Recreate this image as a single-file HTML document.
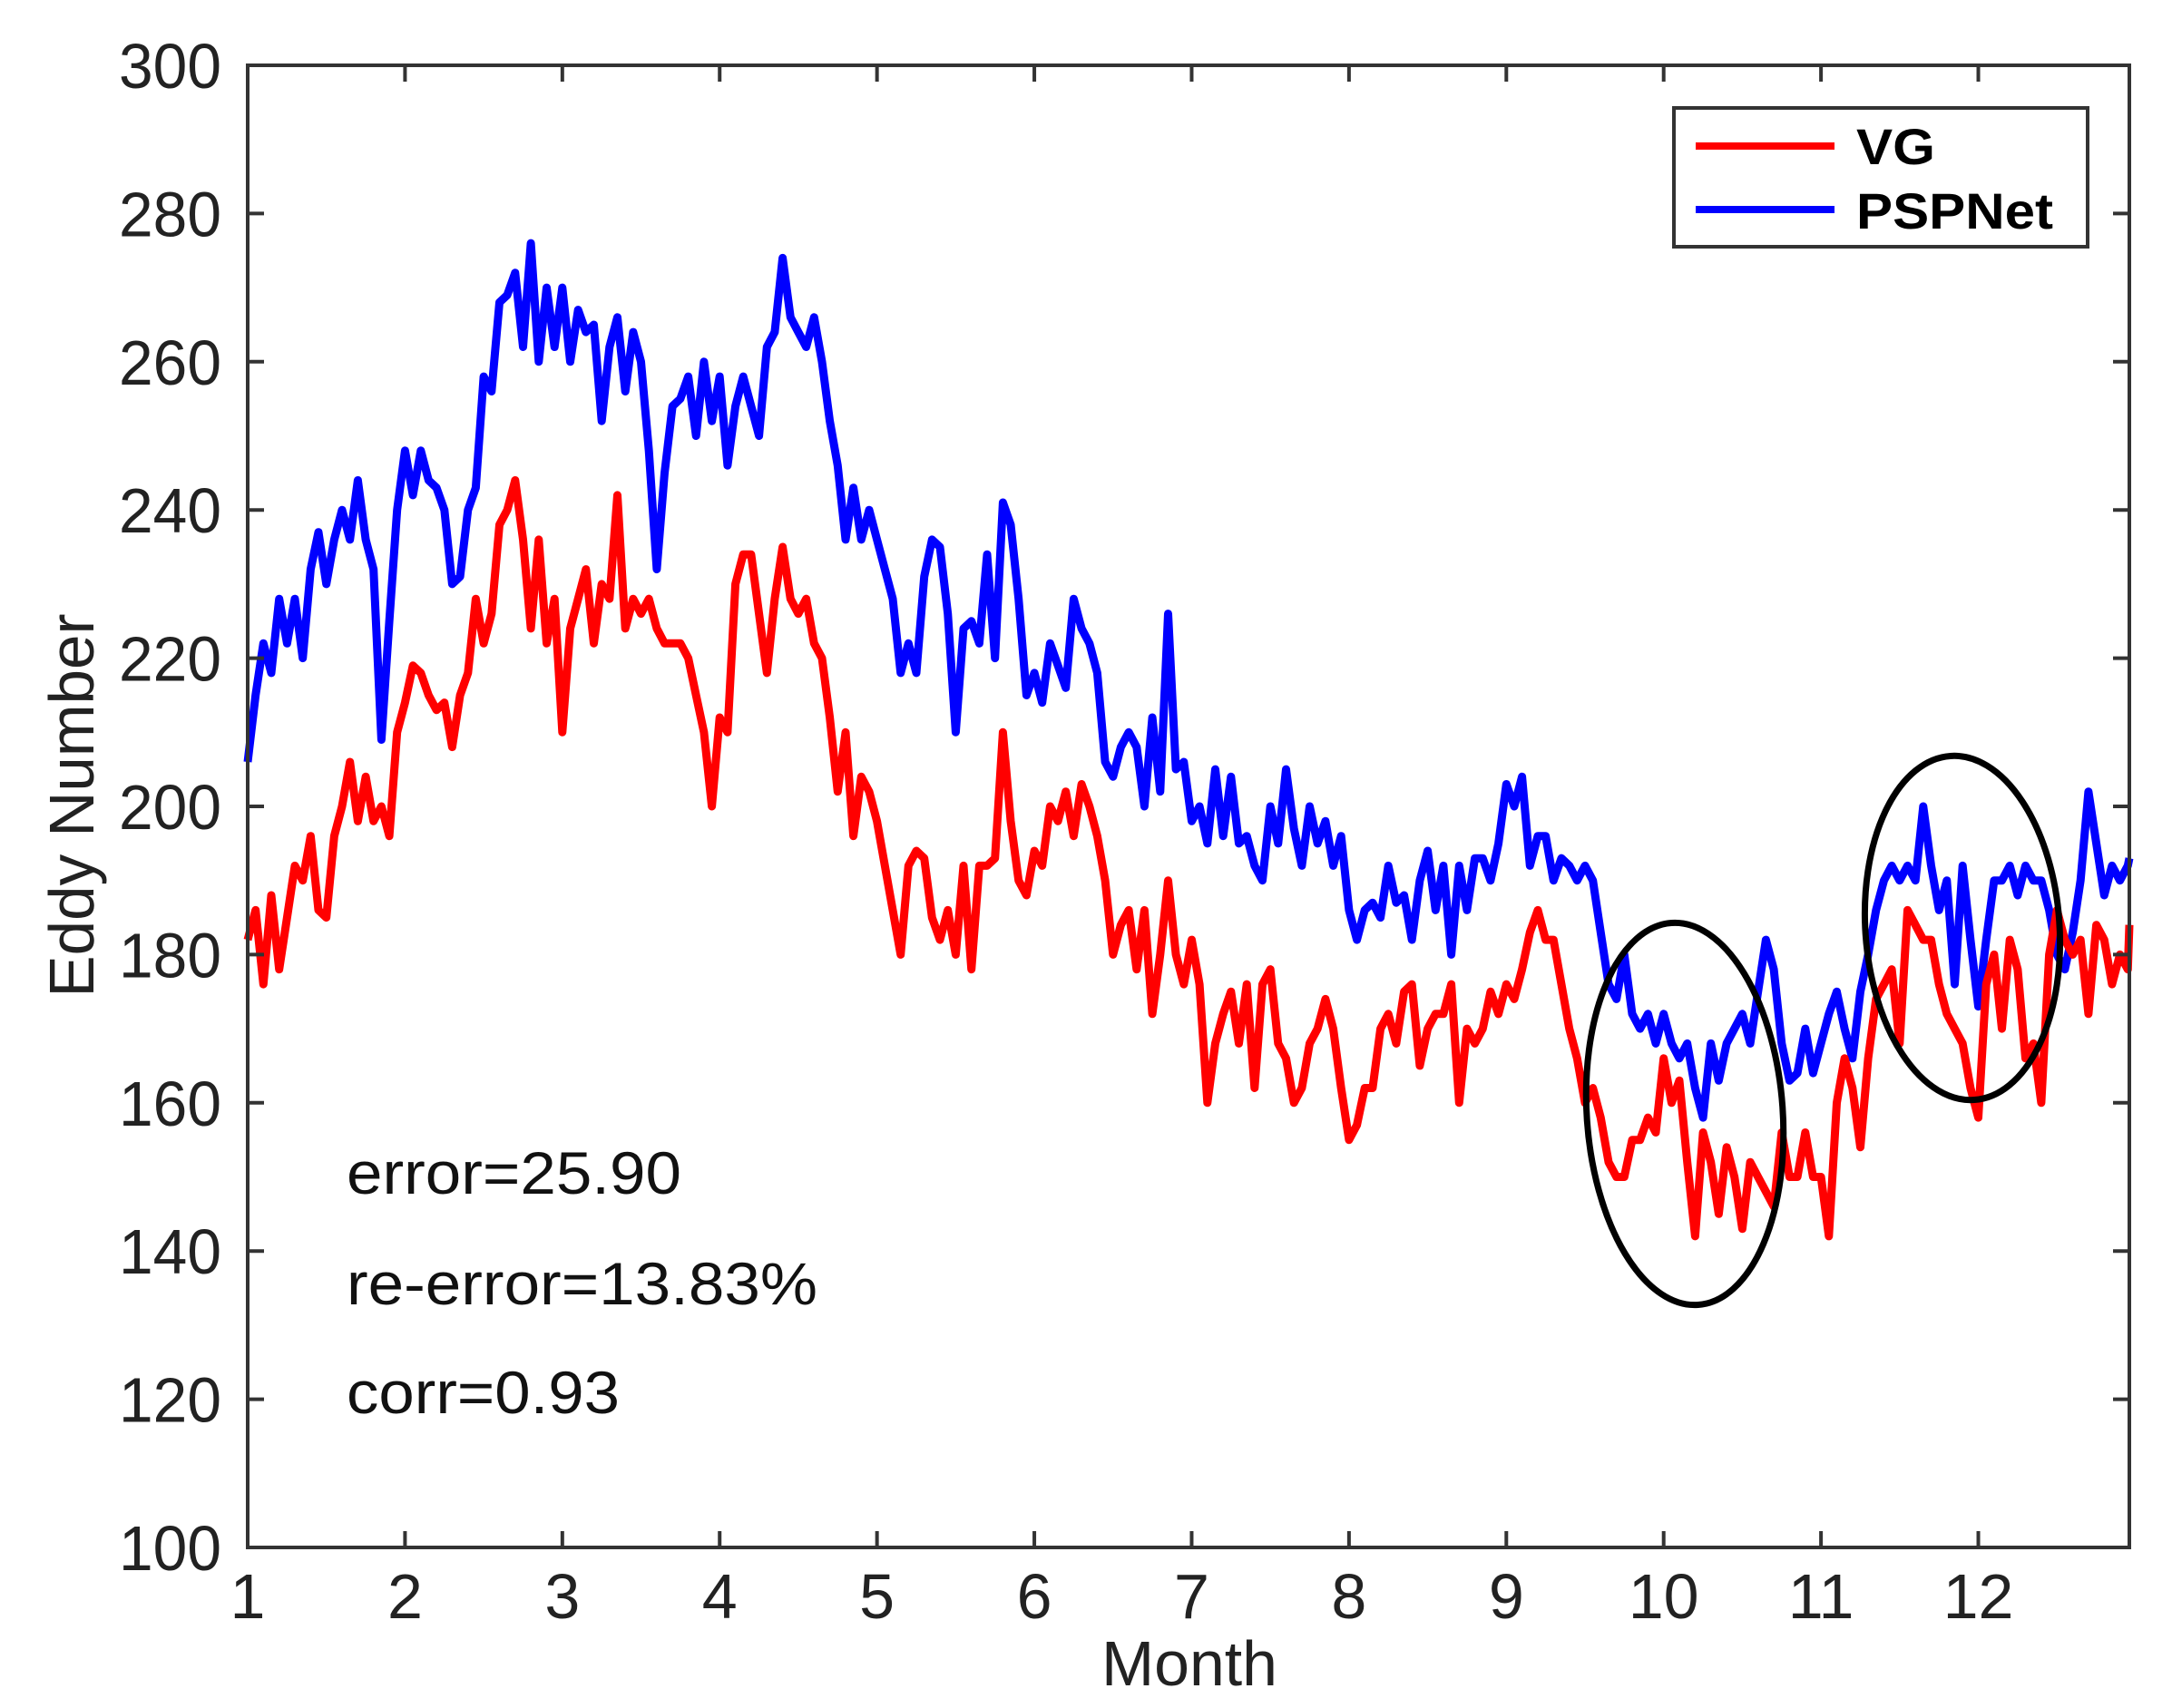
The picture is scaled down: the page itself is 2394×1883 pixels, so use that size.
<!DOCTYPE html>
<html><head><meta charset="utf-8"><style>
html,body{margin:0;padding:0;background:#fff;}
svg{display:block;font-family:"Liberation Sans",Arial,sans-serif;}
</style></head><body>
<svg id="chart" width="2394" height="1883" viewBox="0 0 2394 1883" xmlns="http://www.w3.org/2000/svg">
<rect x="0" y="0" width="2394" height="1883" fill="#fff"/>
<g id="grid-layer"></g>
<g id="series-layer"></g>
<g id="frame-layer"></g>
<text x="1311" y="1858" font-size="70" text-anchor="middle" fill="#222" textLength="194" lengthAdjust="spacingAndGlyphs">Month</text>
<text x="0" y="0" font-size="70" text-anchor="middle" fill="#222" transform="translate(103,888) rotate(-90)" textLength="423" lengthAdjust="spacingAndGlyphs">Eddy Number</text>
<text x="382" y="1316" font-size="66" fill="#111" textLength="369" lengthAdjust="spacingAndGlyphs">error=25.90</text>
<text x="382" y="1438" font-size="66" fill="#111" textLength="519" lengthAdjust="spacingAndGlyphs">re-error=13.83%</text>
<text x="382" y="1558" font-size="66" fill="#111" textLength="301" lengthAdjust="spacingAndGlyphs">corr=0.93</text>
<ellipse cx="1857" cy="1228" rx="108" ry="211" fill="none" stroke="#000" stroke-width="7" transform="rotate(-4 1857 1228)"/>
<ellipse cx="2163" cy="1023" rx="107" ry="190" fill="none" stroke="#000" stroke-width="7" transform="rotate(-4 2163 1023)"/>
<g>
<rect x="1845" y="119" width="456" height="153" fill="#fff" stroke="#333" stroke-width="4"/>
<line x1="1869" y1="161" x2="2022" y2="161" stroke="#f00" stroke-width="8"/>
<text x="2046" y="181" font-size="56" font-weight="bold" fill="#000" textLength="87" lengthAdjust="spacingAndGlyphs">VG</text>
<line x1="1869" y1="231" x2="2022" y2="231" stroke="#00f" stroke-width="8"/>
<text x="2046" y="252" font-size="56" font-weight="bold" fill="#000" textLength="217" lengthAdjust="spacingAndGlyphs">PSPNet</text>
</g>
</svg>
<script>
const monthStart = 1;
const monthStep = 0.05;
const xTicks = [1,2,3,4,5,6,7,8,9,10,11,12];
const yTicks = [100,120,140,160,180,200,220,240,260,280,300];
const pspnetValues = [206,215,222,218,228,222,228,220,232,237,230,236,240,236,244,236,232,209,225,240,248,242,248,244,243,240,230,231,240,243,258,256,268,269,272,262,276,260,270,262,270,260,267,264,265,252,262,266,256,264,260,248,232,245,254,255,258,250,260,252,258,246,254,258,254,250,262,264,274,266,264,262,266,260,252,246,236,243,236,240,236,232,228,218,222,218,231,236,235,226,210,224,225,222,234,220,241,238,228,215,218,214,222,219,216,228,224,222,218,206,204,208,210,208,200,212,202,226,205,206,198,200,195,205,196,204,195,196,192,190,200,195,205,197,192,200,195,198,192,196,186,182,186,187,185,192,187,188,182,190,194,186,192,180,192,186,193,193,190,195,203,200,204,192,196,196,190,193,192,190,192,190,183,176,174,180,172,170,172,168,172,168,166,168,162,158,168,163,168,170,172,168,175,182,178,168,163,164,170,164,168,172,175,170,166,175,180,186,190,192,190,192,190,200,192,186,190,176,192,182,173,182,190,190,192,188,192,190,190,186,180,178,183,190,202,195,188,192,190,192,193];
const vgValues = [182,186,176,188,178,185,192,190,196,186,185,196,200,206,198,204,198,200,196,210,214,219,218,215,213,214,208,215,218,228,222,226,238,240,244,236,224,236,222,228,210,224,228,232,222,230,228,242,224,228,226,228,224,222,222,222,220,215,210,200,212,210,230,234,234,226,218,228,235,228,226,228,222,220,212,202,210,196,204,202,198,192,186,180,192,194,193,185,182,186,180,192,178,192,192,193,210,198,190,188,194,192,200,198,202,196,203,200,196,190,180,184,186,178,186,172,180,190,180,176,182,176,160,168,172,175,168,176,162,176,178,168,166,160,162,168,170,174,170,162,155,157,162,162,170,172,168,175,176,165,170,172,172,176,160,170,168,170,175,172,176,174,178,183,186,182,182,176,170,166,160,162,158,152,150,150,155,155,158,156,166,160,163,152,142,156,152,145,154,150,143,152,150,148,146,156,150,150,156,150,150,142,160,166,162,154,166,174,176,178,168,186,184,182,182,176,172,170,168,162,158,176,180,170,182,178,166,168,160,180,186,182,180,182,172,184,182,176,180,178,184];

const NS = 'http://www.w3.org/2000/svg';
const plot = {left:273, right:2347, top:72, bottom:1706};
const xDomain = [1,12.96], yDomain = [100,300];
function xScale(v){return plot.left + (v-xDomain[0])/(xDomain[1]-xDomain[0])*(plot.right-plot.left);}
function yScale(v){return plot.bottom - (v-yDomain[0])/(yDomain[1]-yDomain[0])*(plot.bottom-plot.top);}
function mk(tag, attrs, parent){const e=document.createElementNS(NS,tag);for(const k in attrs)e.setAttribute(k,attrs[k]);parent.appendChild(e);return e;}

const axes = document.getElementById('grid-layer');
const series = document.getElementById('series-layer');
const frame = document.getElementById('frame-layer');

function drawSeries(vals, color, name){
  let d='';
  vals.forEach((v,i)=>{const m=Math.min(monthStart+i*monthStep,xDomain[1]);d+=(i?'L':'M')+xScale(m).toFixed(1)+' '+yScale(v).toFixed(1);});
  const p = mk('path',{d:d,fill:'none',stroke:color,'stroke-width':9,'stroke-linejoin':'round'},series);
  
  
}
drawSeries(pspnetValues,'#0000ff','pspnet-line');
drawSeries(vgValues,'#ff0000','vg-line');

const box = mk('rect',{x:plot.left,y:plot.top,width:plot.right-plot.left,height:plot.bottom-plot.top,fill:'none',stroke:'#333','stroke-width':4},frame);



xTicks.forEach(t=>{
  const x=xScale(t);
  const a=mk('line',{x1:x,y1:plot.bottom,x2:x,y2:plot.bottom-18,stroke:'#333','stroke-width':4},frame);
  
  
  const b=mk('line',{x1:x,y1:plot.top,x2:x,y2:plot.top+18,stroke:'#333','stroke-width':4},frame);
  
  
  const tx=mk('text',{x:x,y:1784,'font-size':70,'text-anchor':'middle',fill:'#222'},axes);
  tx.textContent=String(t);
  
  
});
yTicks.forEach(t=>{
  const y=yScale(t);
  const a=mk('line',{x1:plot.left,y1:y,x2:plot.left+18,y2:y,stroke:'#333','stroke-width':4},frame);
  
  
  const b=mk('line',{x1:plot.right,y1:y,x2:plot.right-18,y2:y,stroke:'#333','stroke-width':4},frame);
  
  
  const tx=mk('text',{x:244,y:y+25,'font-size':70,'text-anchor':'end',fill:'#222',textLength:113,lengthAdjust:'spacingAndGlyphs'},axes);
  tx.textContent=String(t);
  
  
});
</script>
</body></html>
